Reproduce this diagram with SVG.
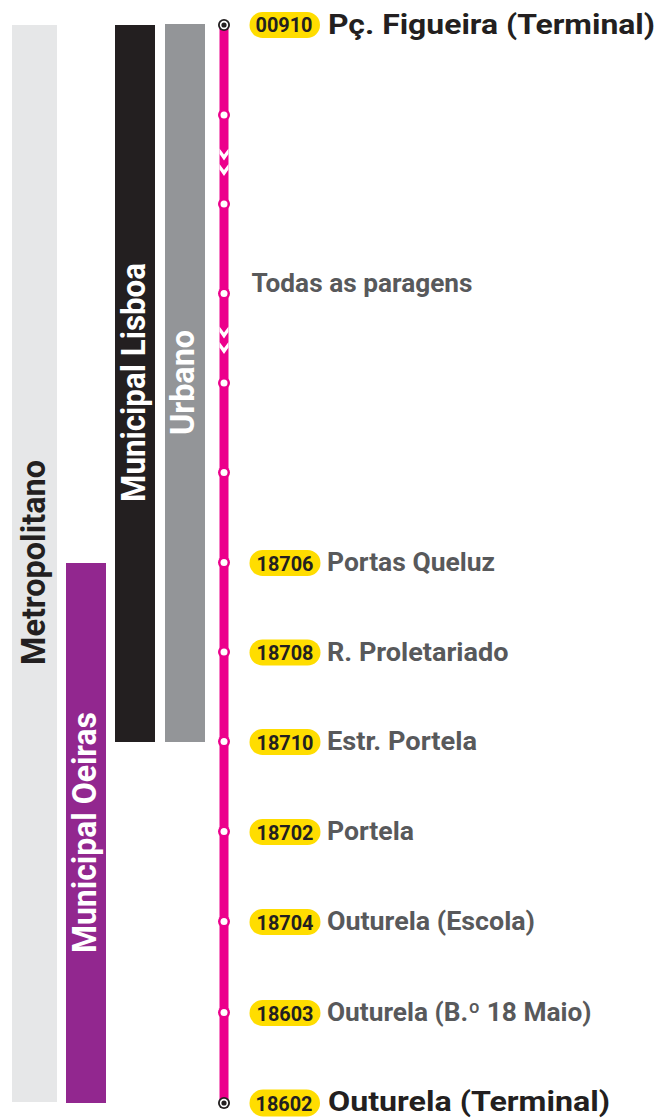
<svg xmlns="http://www.w3.org/2000/svg" width="664" height="1118" viewBox="0 0 664 1118">
<style>
.vl{font-family:Roboto,"Liberation Sans",sans-serif;font-weight:700;font-size:33.5px;text-anchor:middle}
.bd{fill:#FFDD00}
.bt{font-family:Roboto,"Liberation Sans",sans-serif;font-weight:700;font-size:21px;fill:#231F20}
.st{font-family:Roboto,"Liberation Sans",sans-serif;font-weight:700;font-size:25px;fill:#58595B}
.tm{font-family:Roboto,"Liberation Sans",sans-serif;font-weight:700;font-size:28.5px;fill:#231F20}
.stop-o{fill:#EC008C}
.stop-i{fill:#FFFFFF}
.chev{fill:#FFFFFF}
</style>
<rect width="664" height="1118" fill="#FFFFFF"/>
<g id="zone-metropolitano">
<rect x="12" y="25" width="45" height="1077" fill="#E6E7E8"/>
<text class="vl" fill="#231F20" transform="translate(45,562.5) rotate(-90)" textLength="205" lengthAdjust="spacingAndGlyphs">Metropolitano</text>
</g>
<g id="zone-oeiras">
<rect x="66" y="563" width="40" height="540" fill="#92278F"/>
<text class="vl" fill="#FFFFFF" transform="translate(95.5,832.5) rotate(-90)" textLength="241" lengthAdjust="spacingAndGlyphs">Municipal Oeiras</text>
</g>
<g id="zone-lisboa">
<rect x="115" y="25" width="40" height="717" fill="#231F20"/>
<text class="vl" fill="#FFFFFF" transform="translate(144.5,382.5) rotate(-90)" textLength="239" lengthAdjust="spacingAndGlyphs">Municipal Lisboa</text>
</g>
<g id="zone-urbano">
<rect x="165" y="24" width="40" height="718" fill="#939598"/>
<text class="vl" fill="#FFFFFF" transform="translate(193.5,382.5) rotate(-90)" textLength="105" lengthAdjust="spacingAndGlyphs">Urbano</text>
</g>
<g id="connectors">
<line x1="224" y1="25" x2="224" y2="1103" stroke="#EC008C" stroke-width="9"/>
<polygon class="chev" points="219.5,148.5 224,154.5 228.5,148.5 228.5,154 224,160.5 219.5,154"/>
<polygon class="chev" points="219.5,164 224,170 228.5,164 228.5,169.5 224,176 219.5,169.5"/>
<polygon class="chev" points="219.5,326.5 224,332.5 228.5,326.5 228.5,332 224,338.5 219.5,332"/>
<polygon class="chev" points="219.5,342 224,348 228.5,342 228.5,347.5 224,354 219.5,347.5"/>
</g>
<g id="stop-00910">
<circle cx="224" cy="25" r="6" fill="#231F20"/><circle cx="224" cy="25" r="4.2" fill="#FFFFFF"/><circle cx="224" cy="25" r="2.6" fill="#231F20"/>
<rect class="bd" x="249.5" y="12" width="70.5" height="26" rx="13"/>
<text class="bt" x="255.5" y="32" textLength="57" lengthAdjust="spacingAndGlyphs">00910</text>
<text class="tm" x="328" y="34" textLength="327" lengthAdjust="spacingAndGlyphs">Pç. Figueira (Terminal)</text>
</g>
<g id="stop-1"><circle class="stop-o" cx="224" cy="115" r="6"/><circle class="stop-i" cx="224" cy="115" r="3.5"/></g>
<g id="stop-2"><circle class="stop-o" cx="224" cy="204" r="6"/><circle class="stop-i" cx="224" cy="204" r="3.5"/></g>
<g id="stop-3"><circle class="stop-o" cx="224" cy="293.5" r="6"/><circle class="stop-i" cx="224" cy="293.5" r="3.5"/></g>
<g id="stop-4"><circle class="stop-o" cx="224" cy="383" r="6"/><circle class="stop-i" cx="224" cy="383" r="3.5"/></g>
<g id="stop-5"><circle class="stop-o" cx="224" cy="472.5" r="6"/><circle class="stop-i" cx="224" cy="472.5" r="3.5"/></g>
<g id="label-todas">
<text class="st" x="251.5" y="292" textLength="221" lengthAdjust="spacingAndGlyphs">Todas as paragens</text>
</g>
<g id="stop-18706">
<circle class="stop-o" cx="224" cy="562.5" r="6"/><circle class="stop-i" cx="224" cy="562.5" r="3.5"/>
<rect class="bd" x="249.5" y="550" width="71" height="26" rx="13"/>
<text class="bt" x="256.5" y="570.5" textLength="57" lengthAdjust="spacingAndGlyphs">18706</text>
<text class="st" x="327" y="571" textLength="168" lengthAdjust="spacingAndGlyphs">Portas Queluz</text>
</g>
<g id="stop-18708">
<circle class="stop-o" cx="224" cy="652" r="6"/><circle class="stop-i" cx="224" cy="652" r="3.5"/>
<rect class="bd" x="249.5" y="639.5" width="71" height="26" rx="13"/>
<text class="bt" x="256.5" y="660" textLength="57" lengthAdjust="spacingAndGlyphs">18708</text>
<text class="st" x="327" y="660.5" textLength="181.5" lengthAdjust="spacingAndGlyphs">R. Proletariado</text>
</g>
<g id="stop-18710">
<circle class="stop-o" cx="224" cy="741.5" r="6"/><circle class="stop-i" cx="224" cy="741.5" r="3.5"/>
<rect class="bd" x="249.5" y="729" width="71" height="26" rx="13"/>
<text class="bt" x="256.5" y="749.5" textLength="57" lengthAdjust="spacingAndGlyphs">18710</text>
<text class="st" x="327" y="750" textLength="150" lengthAdjust="spacingAndGlyphs">Estr. Portela</text>
</g>
<g id="stop-18702">
<circle class="stop-o" cx="224" cy="831.5" r="6"/><circle class="stop-i" cx="224" cy="831.5" r="3.5"/>
<rect class="bd" x="249.5" y="819" width="71" height="26" rx="13"/>
<text class="bt" x="256.5" y="839.5" textLength="57" lengthAdjust="spacingAndGlyphs">18702</text>
<text class="st" x="327" y="840" textLength="87" lengthAdjust="spacingAndGlyphs">Portela</text>
</g>
<g id="stop-18704">
<circle class="stop-o" cx="224" cy="921.5" r="6"/><circle class="stop-i" cx="224" cy="921.5" r="3.5"/>
<rect class="bd" x="249.5" y="909" width="71" height="26" rx="13"/>
<text class="bt" x="256.5" y="929.5" textLength="57" lengthAdjust="spacingAndGlyphs">18704</text>
<text class="st" x="327" y="930" textLength="208" lengthAdjust="spacingAndGlyphs">Outurela (Escola)</text>
</g>
<g id="stop-18603">
<circle class="stop-o" cx="224" cy="1012.5" r="6"/><circle class="stop-i" cx="224" cy="1012.5" r="3.5"/>
<rect class="bd" x="249.5" y="1000" width="71" height="26" rx="13"/>
<text class="bt" x="256.5" y="1020.5" textLength="57" lengthAdjust="spacingAndGlyphs">18603</text>
<text class="st" x="327" y="1021" textLength="264.5" lengthAdjust="spacingAndGlyphs">Outurela (B.º 18 Maio)</text>
</g>
<g id="stop-18602">
<circle cx="224" cy="1103" r="6" fill="#231F20"/><circle cx="224" cy="1103" r="4.2" fill="#FFFFFF"/><circle cx="224" cy="1103" r="2.6" fill="#231F20"/>
<rect class="bd" x="249.5" y="1089.5" width="70.5" height="27" rx="13.5"/>
<text class="bt" x="255.5" y="1110.5" textLength="57" lengthAdjust="spacingAndGlyphs">18602</text>
<text class="tm" x="328" y="1111" font-size="27.5" textLength="282" lengthAdjust="spacingAndGlyphs">Outurela (Terminal)</text>
</g>
</svg>
